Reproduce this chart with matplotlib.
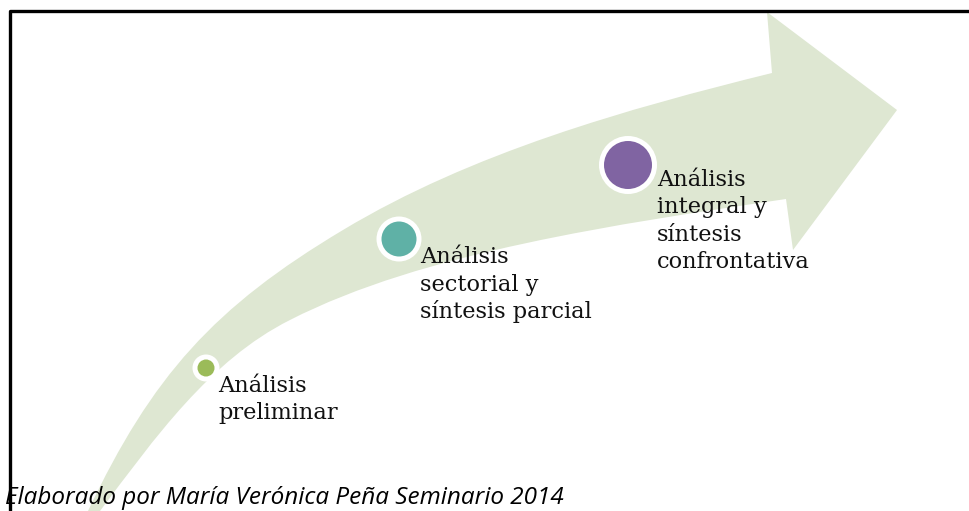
import matplotlib
matplotlib.use("Agg")
import matplotlib.pyplot as plt
from matplotlib.path import Path
from matplotlib.patches import PathPatch, Circle

# Etapas del proceso
etapas = [
    ["Análisis", "preliminar"],
    ["Análisis", "sectorial y", "síntesis parcial"],
    ["Análisis", "integral y", "síntesis", "confrontativa"],
]
colores = ["#9bbb59", "#5fb1a6", "#8064a2"]
nota = "Elaborado por María Verónica Peña Seminario 2014"

# Posiciones (pixeles) de cada etapa
centros = [(206, 368), (399, 239), (628, 165)]
radios = [8.5, 17.5, 24]
texto_xy = [(218, 392), (420, 263), (657, 186)]
interlinea = 27.5

W, H = 969, 511
fig = plt.figure(figsize=(W / 100, H / 100), dpi=100)
ax = fig.add_axes([0, 0, 1, 1])
ax.set_xlim(0, W)
ax.set_ylim(H, 0)
ax.axis("off")

# ------------------ FLECHA ------------------
verts = [
    (86, 516),
    (88, 511),
    (152, 376), (214, 307), (343, 230),      # borde superior (1)
    (471, 153), (626, 109), (772, 73),       # borde superior (2)
    (767, 12), (897, 110), (793, 250), (786, 199),  # punta
    (618, 224), (423, 252), (290, 320),      # borde inferior (2)
    (210, 360), (154, 439), (100, 511),      # borde inferior (1)
    (98, 516), (86, 516),
]
codes = ([Path.MOVETO, Path.LINETO]
         + [Path.CURVE4] * 6
         + [Path.LINETO] * 4
         + [Path.CURVE4] * 6
         + [Path.LINETO, Path.CLOSEPOLY])
ax.add_patch(PathPatch(Path(verts, codes), facecolor="#dee7d2", edgecolor="none", zorder=1))

# ------------------ CIRCULOS Y TEXTO ------------------
for (cx, cy), r, col, lineas, (tx, ty) in zip(centros, radios, colores, etapas, texto_xy):
    ax.add_patch(Circle((cx, cy), r + 5, facecolor="white", edgecolor="none", zorder=2))
    ax.add_patch(Circle((cx, cy), r, facecolor=col, edgecolor="none", zorder=3))
    for i, linea in enumerate(lineas):
        ax.text(tx, ty + i * interlinea, linea, fontsize=16.2, family="DejaVu Serif",
                ha="left", va="baseline", color="#111111", zorder=4)

# Marco
ax.plot([10.5, 10.5, W + 5], [H + 5, 11.5, 11.5], color="black", lw=2.4,
        solid_capstyle="butt", zorder=5)

ax.text(5, 504, nota, fontsize=17.5, family="Open Sans", style="italic",
        ha="left", va="baseline", color="black", zorder=6)

fig.savefig("out.png", dpi=100)
